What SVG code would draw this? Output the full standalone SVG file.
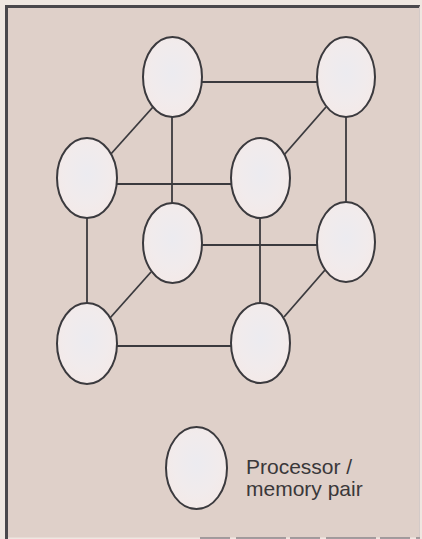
<svg xmlns="http://www.w3.org/2000/svg" width="422" height="539" viewBox="0 0 422 539">
  <defs>
    <radialGradient id="nodeFill" cx="50%" cy="45%" r="60%">
      <stop offset="0" stop-color="#ecebf0"/>
      <stop offset="0.6" stop-color="#f1ebec"/>
      <stop offset="1" stop-color="#f4e9e7"/>
    </radialGradient>
    <style>
      .node { fill: url(#nodeFill); stroke: #3b3a3e; stroke-width: 2; }
      .edge { stroke: #3b3a3e; stroke-width: 1.8; fill: none; }
      .label { font-family: "Liberation Sans", Arial, sans-serif; font-size: 21px; fill: #3a383a; }
    </style>
  </defs>

  <!-- page and frame -->
  <rect x="0" y="0" width="422" height="539" fill="#efe7e1"/>
  <rect x="6.5" y="6.5" width="413" height="531" fill="#dfd0c9"/>
  <line x1="6.5" y1="5" x2="6.5" y2="539" stroke="#4a484c" stroke-width="3"/>
  <line x1="5" y1="6.5" x2="420" y2="6.5" stroke="#4a484c" stroke-width="3"/>
  <line x1="419.5" y1="6.5" x2="419.5" y2="537" stroke="#d3cac8" stroke-width="1"/>
  <line x1="200" y1="538" x2="420" y2="538" stroke="#8a8488" stroke-width="1.5" stroke-dasharray="30 6 50 4"/>

  <!-- connectors -->
  <g id="connectors">
    <line class="edge" x1="202" y1="82" x2="317" y2="82"/>
    <line class="edge" x1="153" y1="107" x2="110" y2="155"/>
    <line class="edge" x1="172" y1="117" x2="172" y2="203"/>
    <line class="edge" x1="326" y1="107" x2="284" y2="155"/>
    <line class="edge" x1="346" y1="117" x2="346" y2="202"/>
    <line class="edge" x1="117" y1="184" x2="231" y2="184"/>
    <line class="edge" x1="87" y1="218" x2="87" y2="303"/>
    <line class="edge" x1="260" y1="218" x2="260" y2="303"/>
    <line class="edge" x1="202" y1="245" x2="317" y2="245"/>
    <line class="edge" x1="151" y1="272" x2="110" y2="318"/>
    <line class="edge" x1="325" y1="270" x2="284" y2="317"/>
    <line class="edge" x1="117" y1="346" x2="231" y2="346"/>
  </g>

  <!-- processor / memory nodes -->
  <g id="node-back-top-left"><ellipse class="node" cx="172.5" cy="77" rx="29.5" ry="40"/></g>
  <g id="node-back-top-right"><ellipse class="node" cx="346" cy="77" rx="29" ry="40"/></g>
  <g id="node-front-top-left"><ellipse class="node" cx="87" cy="178" rx="30" ry="40"/></g>
  <g id="node-front-top-right"><ellipse class="node" cx="260.5" cy="178" rx="29.5" ry="40"/></g>
  <g id="node-back-bottom-left"><ellipse class="node" cx="172.5" cy="243" rx="29.5" ry="40"/></g>
  <g id="node-back-bottom-right"><ellipse class="node" cx="346" cy="242" rx="29" ry="40"/></g>
  <g id="node-front-bottom-left"><ellipse class="node" cx="87" cy="343.5" rx="30" ry="40.5"/></g>
  <g id="node-front-bottom-right"><ellipse class="node" cx="260.5" cy="343" rx="29.5" ry="40"/></g>

  <!-- legend -->
  <g id="legend">
    <ellipse class="node" cx="196.5" cy="468" rx="30.5" ry="41"/>
    <text class="label" x="246" y="474">Processor /</text>
    <text class="label" x="246" y="496">memory pair</text>
  </g>
</svg>
